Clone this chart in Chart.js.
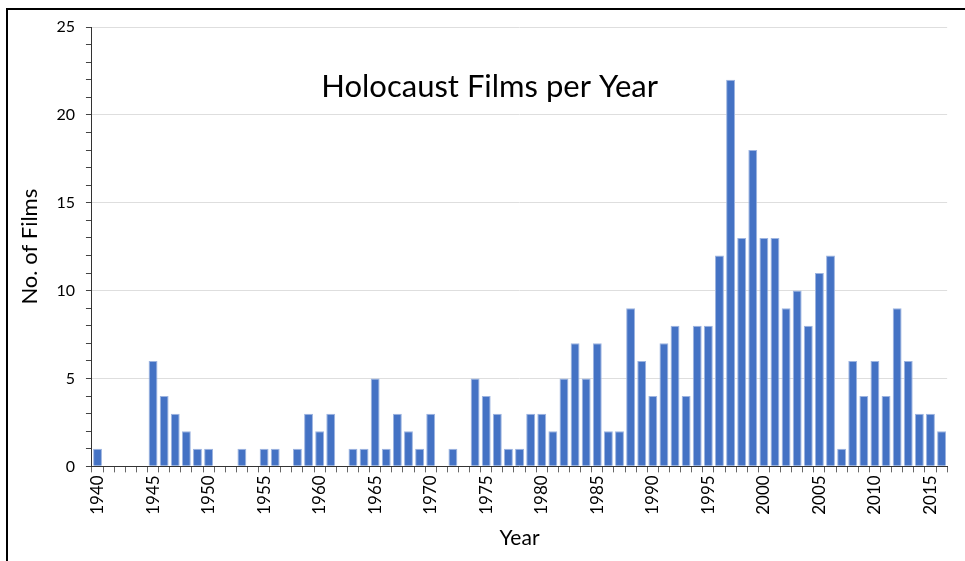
<!DOCTYPE html>
<html>
<head>
<meta charset="utf-8">
<script src="https://cdn.jsdelivr.net/npm/chart.js@4"></script>
<style>
	body { margin: 0; background: #fff; }
	#wrap { position: absolute; left: 0; top: 0; width: 965px; height: 561px; }
	#frame { position: absolute; left: 6px; top: 8px; width: 980px; height: 600px; border-left: 2px solid #000; border-top: 2px solid #000; pointer-events: none; }
</style>
</head>
<body>
<div id="wrap"><canvas id="mycanvas" width="965" height="561"></canvas></div>
<div id="frame"></div>
<script>
var years = [];
for (var y = 1940; y <= 2016; y++) years.push(String(y));

var films = [
	1, 0, 0, 0, 0, 6, 4, 3, 2, 1,
	1, 0, 0, 1, 0, 1, 1, 0, 1, 3,
	2, 3, 0, 1, 1, 5, 1, 3, 2, 1,
	3, 0, 1, 0, 5, 4, 3, 1, 1, 3,
	3, 2, 5, 7, 5, 7, 2, 2, 9, 6,
	4, 7, 8, 4, 8, 8, 12, 22, 13, 18,
	13, 13, 9, 10, 8, 11, 12, 1, 6, 4,
	6, 4, 9, 6, 3, 3, 2
];

var chartTitle = "Holocaust Films per Year";
var fontFam = "Lato, 'Open Sans', sans-serif";

// title sits inside the plot area
var innerTitle = {
	id: "innerTitle",
	afterDraw: function(chart) {
		var c = chart.ctx, a = chart.chartArea;
		c.save();
		c.font = "31px " + fontFam;
		c.fillStyle = "#000";
		c.textAlign = "center";
		c.textBaseline = "middle";
		c.fillText(chartTitle, a.left + (a.right - a.left) * 0.465, a.top + 60);
		c.restore();
	}
};

var ctx = document.getElementById("mycanvas");
var LineGraph = new Chart(ctx, {
	type: "bar",
	data: {
		labels: years,
		datasets: [{
			label: "Films",
			data: films,
			backgroundColor: "#4472C4",
			borderColor: "#9db4e0",
			borderWidth: 1,
			barPercentage: 0.8,
			categoryPercentage: 1.0
		}]
	},
	options: {
		responsive: false,
		animation: false,
		layout: { padding: { left: 13, right: 4, top: 27, bottom: 6 } },
		plugins: {
			legend: { display: false },
			tooltip: { enabled: false }
		},
		scales: {
			x: {
				grid: { drawOnChartArea: false, tickColor: "#666", tickLength: 6 },
				border: { color: "#333", width: 1 },
				ticks: {
					autoSkip: false,
					maxRotation: 90,
					minRotation: 90,
					color: "#000",
					font: { family: fontFam, size: 17 },
					callback: function(v, i) {
						var yr = Number(years[i]);
						return yr % 5 === 0 ? years[i] : "";
					}
				},
				title: { display: true, text: "Year", color: "#000", font: { family: fontFam, size: 21 }, padding: { top: 8 } }
			},
			y: {
				min: 0,
				max: 25,
				grid: {
					color: function(c) { return (c.tick.value % 5 === 0 && c.tick.value > 0) ? "#dedede" : "rgba(0,0,0,0)"; },
					tickColor: "#444",
					tickLength: 6
				},
				border: { color: "#333", width: 1 },
				ticks: {
					stepSize: 1,
					autoSkip: false,
					color: "#000",
					padding: 11,
					font: { family: fontFam, size: 16 },
					callback: function(v) { return v % 5 === 0 ? v : ""; }
				},
				title: { display: true, text: "No. of Films", color: "#000", font: { family: fontFam, size: 22 }, padding: { bottom: 2 } }
			}
		}
	},
	plugins: [innerTitle]
});
</script>
</body>
</html>
